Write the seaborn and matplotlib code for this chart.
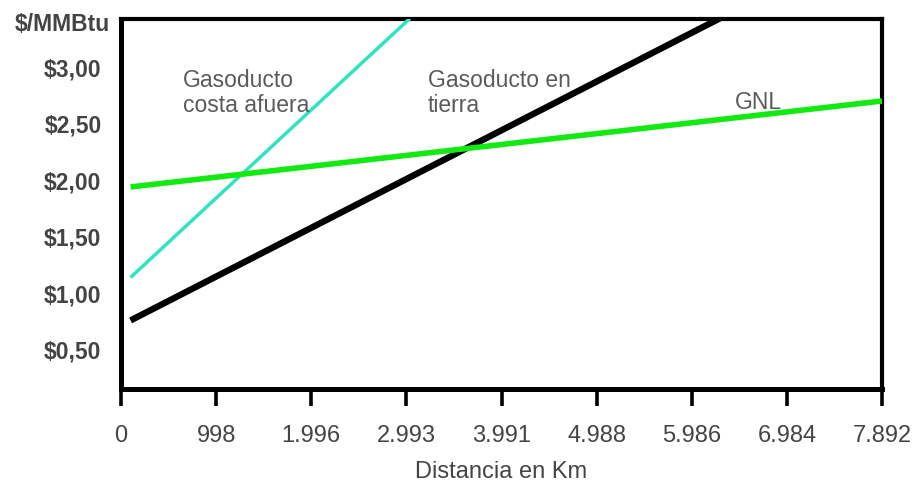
"""Costo de transporte de gas segun distancia"""
import matplotlib

matplotlib.use("Agg")
import matplotlib.pyplot as plt
import pandas as pd
import seaborn as sns

# distance (km) and cost ($/MMBtu) end points
dist_costa = [100, 3030]
cost_costa = [1.14, 3.43]
dist_tierra = [100, 6280]
cost_tierra = [0.76, 3.43]
dist_gnl = [100, 7982]
cost_gnl = [1.94, 2.70]

xticks = [0, 998, 1996, 2993, 3991, 4988, 5986, 6984, 7982]
xlabels = ["0", "998", "1.996", "2.993", "3.991", "4.988", "5.986", "6.984", "7.892"]
yticks = [0.5, 1.0, 1.5, 2.0, 2.5, 3.0]
ylabels = ["$0,50", "$1,00", "$1,50", "$2,00", "$2,50", "$3,00"]


def main():
    sns.set_style("white")
    plt.rcParams["font.family"] = ["Liberation Sans", "DejaVu Sans"]

    fig = plt.figure(figsize=(9.14, 4.82), dpi=100)
    ax = fig.add_axes([0.1324, 0.193, 0.8326, 0.7676])

    series = [
        ("costa", dist_costa, cost_costa, "#30e3c2", 2.5),
        ("tierra", dist_tierra, cost_tierra, "#000000", 4.6),
        ("gnl", dist_gnl, cost_gnl, "#12ea12", 4.0),
    ]
    for name, x, y, color, lw in series:
        df = pd.DataFrame({"km": x, "cost": y})
        sns.lineplot(data=df, x="km", y="cost", ax=ax, color=color,
                     linewidth=lw, solid_capstyle="butt", zorder=3)

    ax.set_xlim(0, 7982)
    ax.set_ylim(0.154, 3.425)
    ax.set_xticks(xticks)
    ax.set_xticklabels(xlabels, fontsize=17, color="#444444")
    ax.set_yticks(yticks)
    ax.set_yticklabels(ylabels, fontsize=16.5, color="#444444",
                       fontweight="bold")
    ax.tick_params(axis="x", direction="out", length=12, width=2.6,
                   color="black", pad=14, bottom=True)
    ax.tick_params(axis="y", length=0, pad=14)
    ax.set_xlabel("Distancia en Km", fontsize=17, color="#444444",
                  labelpad=10)
    ax.set_ylabel("")
    for side, sp in ax.spines.items():
        sp.set_visible(True)
        sp.set_color("black")
        sp.set_linewidth(3.6 if side in ("left", "bottom") else 3.0)

    ax.text(-0.015, 0.985, "$/MMBtu", transform=ax.transAxes, ha="right",
            va="center", fontsize=16.5, fontweight="bold", color="#444444")

    txt = dict(fontsize=16.5, color="#5a5a5a", ha="left", va="center",
               linespacing=1.12)
    ax.text(0.081, 0.80, "Gasoducto\ncosta afuera", transform=ax.transAxes,
            **txt)
    ax.text(0.403, 0.80, "Gasoducto en\ntierra", transform=ax.transAxes,
            **txt)
    ax.text(0.807, 0.775, "GNL", transform=ax.transAxes, **txt)

    fig.savefig("out.png", dpi=100)


if __name__ == "__main__":
    main()
